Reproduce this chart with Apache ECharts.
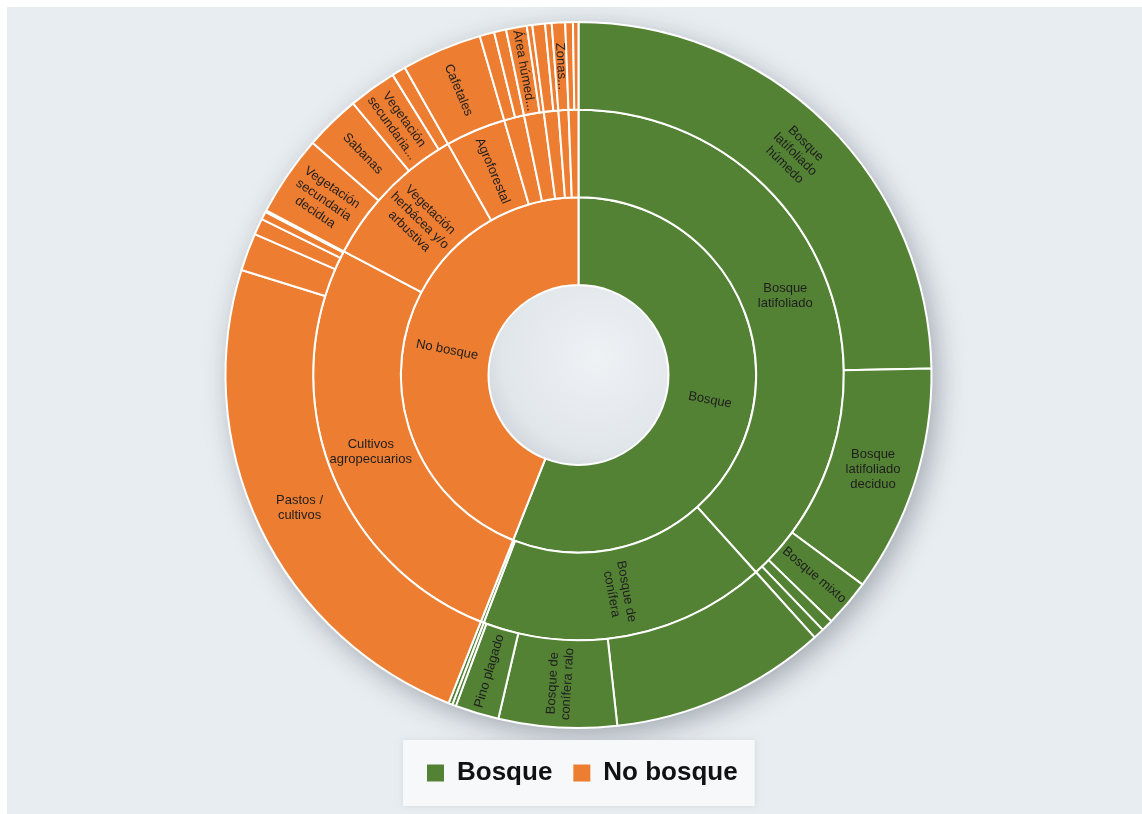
<!DOCTYPE html>
<html>
<head>
<meta charset="utf-8">
<title>Bosque / No bosque</title>
<script src="https://cdn.jsdelivr.net/npm/echarts@6/dist/echarts.min.js"></script>
<style>
  html, body { margin: 0; padding: 0; background: #ffffff; }
  #chart { position: absolute; left: 7px; top: 7px; width: 1135px; height: 807px; background: #e8edf1; }
</style>
</head>
<body>
<div id="chart"></div>
<script>
// categorías del primer anillo
const categories = ['Bosque', 'No bosque'];
const categoryColors = ['#548235', '#ed7d31'];

// ruta de cada hoja: [anillo 1, anillo 2, anillo 3]
const leafPaths = [
  ['Bosque', 'Bosque latifoliado', 'Bosque latifoliado húmedo'],
  ['Bosque', 'Bosque latifoliado', 'Bosque latifoliado deciduo'],
  ['Bosque', 'Bosque latifoliado', 'Bosque mixto'],
  ['Bosque', 'Bosque latifoliado', 'Bosque latifoliado ralo'],
  ['Bosque', 'Bosque latifoliado', 'Bosque de galería'],
  ['Bosque', 'Bosque de conífera', 'Bosque de conífera denso'],
  ['Bosque', 'Bosque de conífera', 'Bosque de conífera ralo'],
  ['Bosque', 'Bosque de conífera', 'Pino plagado'],
  ['Bosque', 'Bosque de conífera', 'Bosque de conífera regenerado'],
  ['Bosque', 'Bosque de mangle', 'Bosque de mangle alto'],
  ['No bosque', 'Cultivos agropecuarios', 'Pastos / cultivos'],
  ['No bosque', 'Cultivos agropecuarios', 'Palma africana'],
  ['No bosque', 'Cultivos agropecuarios', 'Agricultura tecnificada'],
  ['No bosque', 'Cultivos agropecuarios', 'Camaroneras / salineras'],
  ['No bosque', 'Cultivos agropecuarios', 'Árboles frutales'],
  ['No bosque', 'Vegetación herbácea y/o arbustiva', 'Vegetación secundaria decidua'],
  ['No bosque', 'Vegetación herbácea y/o arbustiva', 'Sabanas'],
  ['No bosque', 'Vegetación herbácea y/o arbustiva', 'Vegetación secundaria húmeda'],
  ['No bosque', 'Vegetación herbácea y/o arbustiva', 'Árboles dispersos'],
  ['No bosque', 'Agroforestal', 'Cafetales'],
  ['No bosque', 'Suelo desnudo', 'Suelo desnudo continental'],
  ['No bosque', 'Suelo desnudo', 'Playas y arenales'],
  ['No bosque', 'Humedales', 'Área húmeda continental'],
  ['No bosque', 'Humedales', 'Área húmeda costera'],
  ['No bosque', 'Cuerpos de agua', 'Lagos y lagunas'],
  ['No bosque', 'Cuerpos de agua', 'Ríos'],
  ['No bosque', 'Zonas urbanas', 'Zonas urbanas continuas'],
  ['No bosque', 'Otros usos', 'Infraestructura'],
  ['No bosque', 'Otros usos', 'Minería']
];

// porcentaje de superficie de cada hoja
const leafValues = [
  24.7, 10.4, 2.17, 0.55, 0.5,
  9.9, 5.4, 2.0, 0.17,
  0.18,
  23.8, 1.72, 0.75, 0.36, 0.08,
  3.7, 2.55, 2.2, 0.64,
  3.67,
  0.67, 0.55,
  0.95, 0.25,
  0.58, 0.3,
  0.61,
  0.35, 0.25
];

// texto visible en cada sector (los que no aparecen van sin etiqueta)
const labelText = {
  'Bosque': 'Bosque',
  'No bosque': 'No bosque',
  'Bosque latifoliado': 'Bosque\nlatifoliado',
  'Bosque de conífera': 'Bosque de\nconífera',
  'Cultivos agropecuarios': 'Cultivos\nagropecuarios',
  'Vegetación herbácea y/o arbustiva': 'Vegetación\nherbácea y/o\narbustiva',
  'Agroforestal': 'Agroforestal',
  'Bosque latifoliado húmedo': 'Bosque\nlatifoliado\nhúmedo',
  'Bosque latifoliado deciduo': 'Bosque\nlatifoliado\ndeciduo',
  'Bosque mixto': 'Bosque mixto',
  'Bosque de conífera ralo': 'Bosque de\nconífera ralo',
  'Pino plagado': 'Pino plagado',
  'Pastos / cultivos': 'Pastos /\ncultivos',
  'Vegetación secundaria decidua': 'Vegetación\nsecundaria\ndecidua',
  'Sabanas': 'Sabanas',
  'Vegetación secundaria húmeda': 'Vegetación\nsecundaria...',
  'Cafetales': 'Cafetales',
  'Área húmeda continental': 'Área húmed...',
  'Zonas urbanas continuas': 'Zonas...'
};
const labelRotate = {
  'Bosque latifoliado': 0,
  'Cultivos agropecuarios': 0,
  'Bosque latifoliado húmedo': 'tangential',
  'Bosque latifoliado deciduo': 0,
  'Pastos / cultivos': 0
};

function buildTree() {
  const roots = [];
  leafPaths.forEach((path, i) => {
    const color = categoryColors[categories.indexOf(path[0])];
    let level = roots;
    path.forEach((name, depth) => {
      let node = level.find(n => n.name === name);
      if (!node) {
        node = { name: name, children: [], itemStyle: { color: color } };
        const text = labelText[name];
        node.label = text
          ? { show: true, formatter: text, rotate: labelRotate[name] !== undefined ? labelRotate[name] : 'radial' }
          : { show: false };
        level.push(node);
      }
      if (depth === path.length - 1) {
        node.value = leafValues[i];
        delete node.children;
      } else {
        level = node.children;
      }
    });
  });
  return roots;
}

const chart = echarts.init(document.getElementById('chart'));
const center = [571.5, 368];

chart.setOption({
  animation: false,
  legend: {
    data: categories,
    left: 396,
    bottom: 8,
    icon: 'rect',
    itemWidth: 17,
    itemHeight: 17,
    itemGap: 21,
    padding: [20, 17, 20, 24],
    backgroundColor: '#f7f8fa',
    shadowBlur: 6,
    shadowColor: 'rgba(0,0,0,0.08)',
    selectedMode: false,
    textStyle: {
      fontFamily: 'Liberation Sans',
      fontSize: 26,
      fontWeight: 'bold',
      color: '#111111',
      padding: [0, 0, 0, 8]
    }
  },
  series: [
    {
      // sombra del disco
      type: 'pie',
      silent: true,
      center: center,
      radius: [0, 353],
      label: { show: false },
      itemStyle: {
        color: '#e3e8ec',
        shadowBlur: 28,
        shadowColor: 'rgba(30,40,55,0.35)',
        shadowOffsetX: 6,
        shadowOffsetY: 8
      },
      data: [{ name: 'sombra', value: 1 }]
    },
    {
      // hueco central
      type: 'pie',
      silent: true,
      center: center,
      radius: [0, 90],
      label: { show: false },
      itemStyle: {
        color: new echarts.graphic.RadialGradient(0.6, 0.4, 0.75, [
          { offset: 0, color: '#eef2f5' },
          { offset: 0.7, color: '#e1e6ea' },
          { offset: 1, color: '#c4cbd2' }
        ])
      },
      data: [{ name: 'hueco', value: 1 }]
    },
    {
      // solo para la leyenda
      type: 'pie',
      silent: true,
      center: center,
      radius: [0, 0],
      stillShowZeroSum: false,
      label: { show: false },
      data: categories.map((c, i) => ({ name: c, value: 0, itemStyle: { color: categoryColors[i] } }))
    },
    {
      type: 'sunburst',
      center: center,
      radius: [90, 353],
      startAngle: 90,
      sort: null,
      nodeClick: false,
      emphasis: { focus: 'none' },
      itemStyle: {
        borderColor: '#ffffff',
        borderWidth: 2
      },
      label: {
        color: '#1e1e1e',
        fontFamily: 'Liberation Sans',
        fontSize: 13,
        lineHeight: 15,
        align: 'center'
      },
      data: buildTree()
    }
  ]
});
</script>
</body>
</html>
